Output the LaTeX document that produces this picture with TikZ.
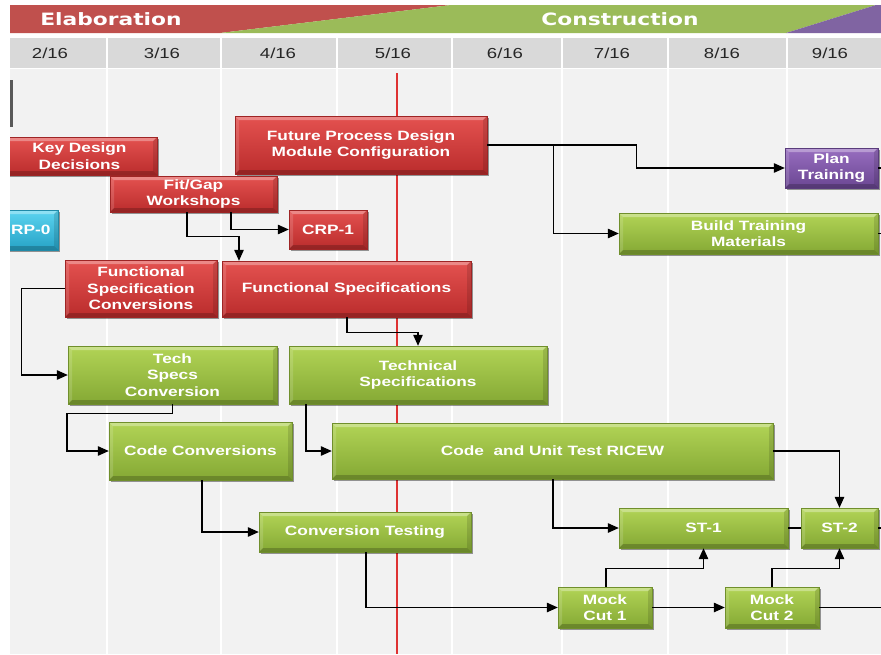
\documentclass[tikz,border=0pt]{standalone}
\usepackage{fontspec}
\setmainfont{Liberation Sans}
\newfontfamily\boxfont[FakeStretch=1.28]{Liberation Sans}
\newfontfamily\hdrfont[FakeStretch=1.28]{DejaVu Sans}
\usetikzlibrary{arrows.meta,shadows}
\definecolor{hdrred}{RGB}{192,80,77}
\definecolor{hdrgreen}{RGB}{155,187,89}
\definecolor{hdrpurple}{RGB}{128,100,162}
\definecolor{bgray}{RGB}{242,242,242}
\definecolor{dgray}{RGB}{217,217,217}
\definecolor{redA}{RGB}{228,82,80}
\definecolor{redB}{RGB}{186,44,44}
\definecolor{grnA}{RGB}{178,212,86}
\definecolor{grnB}{RGB}{132,168,52}
\definecolor{purA}{RGB}{152,110,192}
\definecolor{purB}{RGB}{106,70,146}
\definecolor{cyaA}{RGB}{92,212,240}
\definecolor{cyaB}{RGB}{38,162,198}
\definecolor{nowline}{RGB}{222,50,50}
\definecolor{datetext}{RGB}{38,38,38}
\tikzset{
  bevel/.style={path picture={
    \fill[white,opacity=0.32] (path picture bounding box.north west) -- (path picture bounding box.north east)
       -- ([shift={(-4pt,-4pt)}]path picture bounding box.north east) -- ([shift={(4pt,-4pt)}]path picture bounding box.north west) -- cycle;
    \fill[white,opacity=0.14] (path picture bounding box.north west) -- (path picture bounding box.south west)
       -- ([shift={(4pt,4pt)}]path picture bounding box.south west) -- ([shift={(4pt,-4pt)}]path picture bounding box.north west) -- cycle;
    \fill[black,opacity=0.20] (path picture bounding box.south west) -- (path picture bounding box.south east)
       -- ([shift={(-4pt,4pt)}]path picture bounding box.south east) -- ([shift={(4pt,4pt)}]path picture bounding box.south west) -- cycle;
    \fill[black,opacity=0.12] (path picture bounding box.north east) -- (path picture bounding box.south east)
       -- ([shift={(-4pt,4pt)}]path picture bounding box.south east) -- ([shift={(-4pt,-4pt)}]path picture bounding box.north east) -- cycle;
  }},
  task/.style 2 args={rectangle, inner sep=0pt, align=center, text=white,
    minimum width=#1pt, minimum height=#2pt,
    font=\boxfont\bfseries\fontsize{13.5}{16.5}\selectfont,
    drop shadow={shadow xshift=1.5pt,shadow yshift=-1.8pt,opacity=0.4,fill=black},
    bevel, line width=0.4pt},
  redtask/.style={top color=redA, bottom color=redB, draw=redB!85!black},
  grntask/.style={top color=grnA, bottom color=grnB, draw=grnB!85!black},
  purtask/.style={top color=purA, bottom color=purB, draw=purB!85!black},
  cyatask/.style={top color=cyaA, bottom color=cyaB, draw=cyaB!85!black},
  tasktxt/.style={text=white, inner sep=0pt, font=\boxfont\bfseries\fontsize{13.5}{16.5}\selectfont},
  hdrtxt/.style={text=white, font=\hdrfont\bfseries\fontsize{17}{20}\selectfont, inner sep=0pt},
  datetxt/.style={text=datetext, font=\boxfont\fontsize{14.5}{16}\selectfont, inner sep=0pt},
  conn/.style={draw=black, line width=1.2pt},
  arr/.style={conn, -{Triangle[length=11pt,width=9.5pt]}},
}
\begin{document}
\begin{tikzpicture}[x=1pt,y=-1pt]
\useasboundingbox (0,0) rectangle (881,654);
\fill[white] (0,0) rectangle (881,654);
\begin{scope}
\clip (10,0) rectangle (881,654);
% header band
\fill[hdrred] (10,5) -- (451,5) -- (220,33) -- (10,33) -- cycle;
\fill[hdrgreen] (451,5) -- (876,5) -- (786,33) -- (220,33) -- cycle;
\fill[hdrpurple] (876,5) -- (881,5) -- (881,33) -- (786,33) -- cycle;
\node[hdrtxt] (elab) at (111,19.5) {Elaboration};
\node[hdrtxt] (cons) at (620,19.5) {Construction};
% date row and body
\fill[dgray] (10,38) rectangle (881,68);
\fill[bgray] (10,69) rectangle (881,654);
\foreach \gx in {107,221,337,452,562,668,787}
  \draw[white,line width=1.6pt] (\gx,38) -- (\gx,654);
\draw[white,line width=1.2pt] (10,68.5) -- (881,68.5);
\node[datetxt] (d2) at (50,53) {2/16};
\node[datetxt] (d3) at (162,53) {3/16};
\node[datetxt] (d4) at (278,53) {4/16};
\node[datetxt] (d5) at (393,53) {5/16};
\node[datetxt] (d6) at (505,53) {6/16};
\node[datetxt] (d7) at (612,53) {7/16};
\node[datetxt] (d8) at (722,53) {8/16};
\node[datetxt] (d9) at (830,53) {9/16};
% today line
\draw[nowline,line width=1.1pt] (397,73) -- (397,654);
% cut-off element at top left
\fill[black!65] (10,80) rectangle (13,127);
% tasks
\node[task={155}{38},redtask] (kdd) at (79.5,156) {Key Design\\Decisions};
\node[task={252}{58},redtask] (fpd) at (361,145) {Future Process Design\\Module Configuration};
\node[task={167}{36},redtask] (fitgap) at (193.5,194) {Fit/Gap\\Workshops};
\node[task={78}{39},redtask] (crp1) at (328,229.5) {CRP-1};
\node[task={72}{40},cyatask] (crp0) at (22,230) {};
\node[tasktxt,anchor=west] (crp0txt) at (11,230) {RP-0};
\node[task={152}{57},redtask] (fsc) at (141,288.5) {Functional\\Specification\\Conversions};
\node[task={249}{56},redtask] (fs) at (346.5,289) {Functional Specifications};
\node[task={209}{58},grntask] (tsc) at (172.5,375) {Tech\\Specs\\Conversion};
\node[task={258}{58},grntask] (ts) at (418,375) {Technical\\Specifications};
\node[task={183}{58},grntask] (cc) at (200.5,451) {Code Conversions};
\node[task={441}{56},grntask] (cut) at (552.5,451) {Code~~and Unit Test RICEW};
\node[task={212}{40},grntask] (ct) at (365,532) {Conversion Testing};
\node[task={169}{40},grntask] (st1) at (703.5,528) {ST-1};
\node[task={77}{40},grntask] (st2) at (839.5,528) {ST-2};
\node[task={94}{41},grntask] (mc1) at (605,607.5) {Mock\\Cut 1};
\node[task={94}{41},grntask] (mc2) at (772,607.5) {Mock\\Cut 2};
\node[task={93}{40},purtask] (pt) at (831.5,168) {Plan\\Training};
\node[task={259}{41},grntask] (btm) at (748.5,233.5) {Build Training\\Materials};
% free ends at the right edge
\coordinate (ptout) at (895,168);
\coordinate (btmout) at (895,233.5);
\coordinate (st2out) at (895,528);
\coordinate (mc2out) at (895,607.5);
% connectors
\draw[arr] (fpd.east) -- ++(149,0) |- (pt.west);
\draw[arr] ([xshift=66pt]fpd.east) |- (btm.west);
\draw[conn] (pt.east) -- (ptout);
\draw[conn] (btm.east) -- (btmout);
\draw[conn] (st2.east) -- (st2out);
\draw[conn] (mc2.east) -- (mc2out);
\draw[arr] ([xshift=-6.5pt]fitgap.south) -- ++(0,24) -| ([xshift=-107.5pt]fs.north);
\draw[arr] ([xshift=37.5pt]fitgap.south) |- (crp1.west);
\draw[arr] (fsc.west) -- ++(-43,0) |- (tsc.west);
\draw[arr] ([xshift=0.5pt]fs.south) -- ++(0,15) -| (ts.north);
\draw[arr] (tsc.south) -- ++(0,9) -- ++(-105.5,0) |- (cc.west);
\draw[arr] ([xshift=-112pt]ts.south) |- (cut.west);
\draw[arr] ([xshift=1.5pt]cc.south) |- (ct.west);
\draw[arr] ([xshift=1pt]ct.south) |- (mc1.west);
\draw[arr] ([xshift=0.5pt]cut.south) |- (st1.west);
\draw[arr] (cut.east) -| (st2.north);
\draw[conn] (st1.east) -- (st2.west);
\draw[arr] ([xshift=1pt]mc1.north) -- ++(0,-18) -| (st1.south);
\draw[arr] (mc2.north) -- ++(0,-18) -| (st2.south);
\draw[arr] (mc1.east) -- (mc2.west);
\end{scope}
\end{tikzpicture}
\end{document}
